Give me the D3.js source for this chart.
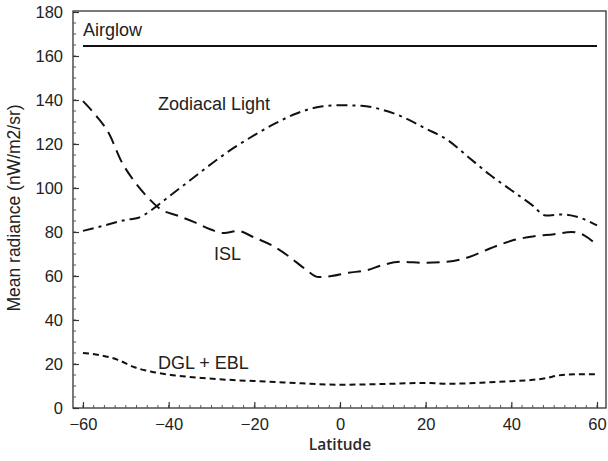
<!DOCTYPE html>
<html><head><meta charset="utf-8">
<script src="https://cdn.jsdelivr.net/npm/d3@7"></script>
<style>body{margin:0;background:#fff}svg{display:block}</style>
</head><body>
<svg id="c" width="608" height="461"></svg>
<script>
const airglowLat = [-60, 60];
const airglowVal = [164.5, 164.5];
const zodiLat = [-60,-55,-50,-47,-44,-40,-35,-30,-25,-20,-15,-10,-5,0,5,10,15,20,25,30,35,40,45,48,52,56,60];
const zodiVal = [80.5,83,85.5,86.5,90,96,103.5,111,118,124,129.5,134,136.8,137.6,137.4,135.5,132,127,122,114,106,99,92,87.5,88,86.5,83];
const islLat = [-60,-57,-54,-51,-48,-45,-42,-38,-34,-30,-27,-24,-20,-16,-12,-8,-5,-2,2,6,10,14,20,25,30,35,40,45,50,54,57,60];
const islVal = [139.5,133,125,112,103,96,90.5,87.5,84.5,81,79.5,80.5,77.5,74,69,63,59.5,60,61.5,62.5,65,66.5,66,66.5,68.5,72.5,76,78,79,80,78.5,74];
const dglLat = [-60,-56,-52,-48,-44,-40,-32,-25,-17,-9,0,10,20,25,33,40,45,48,51,55,60];
const dglVal = [25,24,22,18.5,16.5,15.2,13.6,12.7,12,11.2,10.6,10.9,11.4,11,11.5,12.2,12.8,13.5,14.8,15.3,15.3];
const xTicks = [-60,-40,-20,0,20,40,60];
const yTicks = [0,20,40,60,80,100,120,140,160,180];

const svg = d3.select("#c");
const L=73, R=606, T=11, B=408;
const x = d3.scaleLinear().domain([-62.33, 62.1]).range([L, R]);
const y = d3.scaleLinear().domain([0, 180]).range([B, 12]);
const ink = "#111";
const fnt = "'Liberation Sans', Arial, sans-serif";

// frame
svg.append("rect").attr("x",L).attr("y",T).attr("width",R-L).attr("height",B-T)
  .attr("fill","none").attr("stroke","#333").attr("stroke-width",1.3);

// minor ticks
const xMinor = d3.range(-60, 60.01, 2.5);
svg.append("g").selectAll("line").data(xMinor).join("line")
  .attr("x1",d=>x(d)).attr("x2",d=>x(d)).attr("y1",B).attr("y2",B-3)
  .attr("stroke","#555").attr("stroke-width",1);
const yMinor = d3.range(0, 180.01, 5);
svg.append("g").selectAll("line").data(yMinor).join("line")
  .attr("y1",d=>y(d)).attr("y2",d=>y(d)).attr("x1",L).attr("x2",L+3)
  .attr("stroke","#555").attr("stroke-width",1);

// axes
const xa = svg.append("g").attr("transform",`translate(0,${B})`)
  .call(d3.axisBottom(x).tickValues(xTicks).tickSize(-6).tickPadding(10).tickFormat(d3.format("")));
const ya = svg.append("g").attr("transform",`translate(${L},0)`)
  .call(d3.axisLeft(y).tickValues(yTicks).tickSize(-6).tickPadding(10));
[xa, ya].forEach(g=>{
  g.select(".domain").remove();
  g.selectAll(".tick line").attr("stroke","#333").attr("stroke-width",1.2);
  g.selectAll("text").attr("font-family",fnt).attr("font-size",16.5).attr("fill","#222");
});

// axis titles
svg.append("text").attr("x",340).attr("y",450).attr("text-anchor","middle")
  .attr("font-family","'Open Sans', sans-serif").attr("font-size",15.5).attr("font-weight",600)
  .attr("fill","#2a2a2a").text("Latitude");
svg.append("text").attr("transform","translate(20,208) rotate(-90)").attr("text-anchor","middle")
  .attr("font-family",fnt).attr("font-size",17.5).attr("fill","#222").text("Mean radiance (nW/m2/sr)");

// lines
const mk = (lats, vals) => lats.map((d,i)=>[d, vals[i]]);
const line = d3.line().x(d=>x(d[0])).y(d=>y(d[1])).curve(d3.curveMonotoneX);
function draw(data, dash){
  svg.append("path").datum(data).attr("d",line).attr("fill","none")
    .attr("stroke",ink).attr("stroke-width",2).attr("stroke-dasharray",dash);
}
draw(mk(airglowLat, airglowVal), null);
draw(mk(zodiLat, zodiVal), "11,5,3,5");
draw(mk(islLat, islVal), "13,7");
draw(mk(dglLat, dglVal), "6,4");

// labels
const lab = (t, lx, ly) => svg.append("text").attr("x",x(lx)).attr("y",y(ly))
  .attr("font-family",fnt).attr("font-size",18).attr("fill","#222").text(t);
lab("Airglow", -60, 169);
lab("Zodiacal Light", -42.5, 135.5);
lab("ISL", -29.4, 67.3);
lab("DGL + EBL", -42.5, 17.7);
</script>
</body></html>
